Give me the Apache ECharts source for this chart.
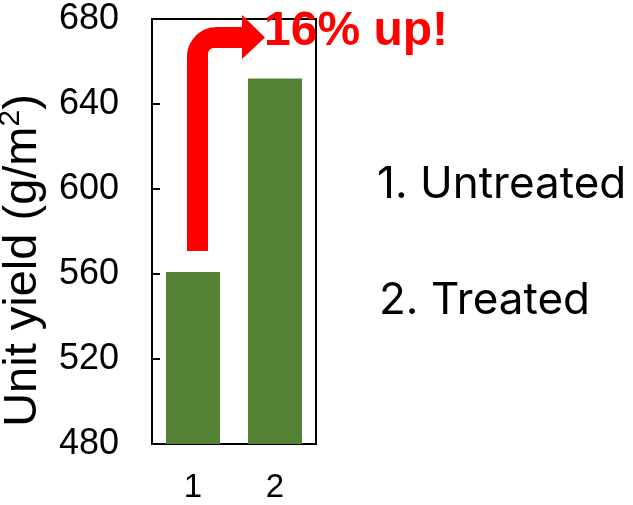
<!doctype html>
<html>
<head>
  <meta charset="UTF-8">
  <title>Unit yield</title>
  <script src="https://cdn.jsdelivr.net/npm/echarts@6/dist/echarts.min.js"></script>
  <style>
    * { margin: 0; padding: 0; }
    #chart { width: 633px; height: 505px; background: #fff; }
  </style>
</head>
<body>
<div id="chart"></div>
<script>
  const categories = ['1', '2']
  const yieldValues = [561, 652]
  const yTicks = [480, 520, 560, 600, 640, 680]
  const legendLines = ['1. Untreated', '2. Treated']
  const gainText = '16% up!'

  const chart = echarts.init(document.getElementById('chart'))

  const font = '"Liberation Sans", Arial, sans-serif'

  // elbow arrow from bar 1 over to the label
  const arrowPath = 'M187,251 L187,57 C187,40.4 200.4,27 217,27 L242,27 L242,15 L265,37.5 L242,59 ' +
    'L242,48 L214,48 C210.7,48 208,50.7 208,54 L208,251 Z'

  const option = {
    animation: false,
    grid: {
      left: 152, right: 317, top: 19, bottom: 61,
      outerBoundsMode: 'none',
      containLabel: false,
      show: true, borderColor: '#000', borderWidth: 2
    },
    xAxis: {
      type: 'category',
      data: categories,
      axisLine: { lineStyle: { color: '#000', width: 2 } },
      axisTick: { inside: true, length: 10, lineStyle: { color: '#000', width: 2 } },
      axisLabel: { color: '#000', fontSize: 33, fontFamily: font, margin: 27 }
    },
    yAxis: {
      type: 'value',
      min: yTicks[0],
      max: yTicks[yTicks.length - 1],
      interval: 40,
      name: '{a|Unit yield (g/m}{s|2}{a|)}',
      nameLocation: 'middle',
      nameGap: 102,
      nameTextStyle: {
        padding: [0, 58, 0, 0],
        rich: {
          a: { fontSize: 47, fontFamily: font, color: '#000' },
          s: { fontSize: 30, fontFamily: font, color: '#000', padding: [0, 0, 24, 0] }
        }
      },
      splitLine: { show: false },
      axisLine: { show: true, lineStyle: { color: '#000', width: 2 } },
      axisTick: { show: true, inside: true, length: 8, lineStyle: { color: '#000', width: 2 } },
      axisLabel: { color: '#000', fontSize: 36, fontFamily: font, margin: 33 }
    },
    series: [
      {
        type: 'bar',
        data: yieldValues,
        barWidth: 54,
        itemStyle: { color: '#548235' }
      },
      {
        type: 'custom',
        coordinateSystem: 'none',
        data: [0],
        silent: true,
        z: 10,
        renderItem: function () {
          return {
            type: 'path',
            shape: { pathData: arrowPath },
            style: { fill: '#ff0000' }
          }
        }
      }
    ],
    graphic: [
      {
        type: 'text',
        left: 264, top: 8,
        style: {
          text: gainText, fill: '#ff0000',
          font: 'bold 48px ' + font
        },
        z: 100
      },
      {
        type: 'text',
        left: 377, top: 163,
        style: { text: legendLines[0], fill: '#000', font: '44px Inter, sans-serif' }
      },
      {
        type: 'text',
        left: 379, top: 279,
        style: { text: legendLines[1], fill: '#000', font: '44px Inter, sans-serif' }
      }
    ]
  }
  chart.setOption(option)
</script>
</body>
</html>
